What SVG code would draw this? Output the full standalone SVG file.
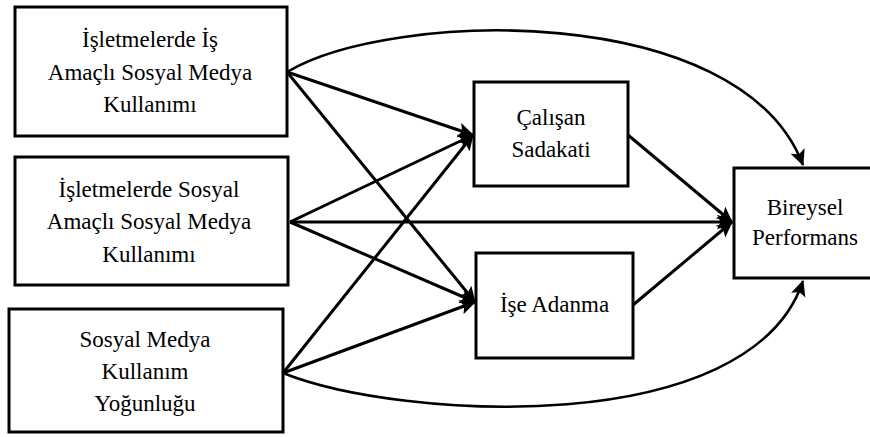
<svg xmlns="http://www.w3.org/2000/svg" width="870" height="437" viewBox="0 0 870 437">
  <style>
    .box { fill: #ffffff; stroke: #000000; stroke-width: 3; }
    .label { font-size: 23px; fill: #000000; text-anchor: middle; }
    .edge { fill: none; stroke: #000000; stroke-width: 3; marker-end: url(#head); }
    .curve { fill: none; stroke: #000000; stroke-width: 2.6; marker-end: url(#head); }
  </style>
  <defs>
    <marker id="head" markerUnits="userSpaceOnUse" markerWidth="18" markerHeight="16" refX="15" refY="7.5" orient="auto">
      <path d="M0,0 L16,7.5 L0,15 L3.5,7.5 z" fill="#000000"/>
    </marker>
  </defs>
  <rect width="870" height="437" fill="#ffffff"/>

  <!-- connectors -->
  <g id="connectors">
    <path class="curve" d="M287,72 C390,10 740,0 803,165"/>
    <path class="curve" d="M283,373 C400,420 750,440 803,281"/>
    <line class="edge" x1="287" y1="72" x2="473" y2="135"/>
    <line class="edge" x1="287" y1="72" x2="475" y2="302"/>
    <line class="edge" x1="290" y1="222" x2="473" y2="135"/>
    <line class="edge" x1="290" y1="222" x2="732" y2="222"/>
    <line class="edge" x1="290" y1="222" x2="475" y2="302"/>
    <line class="edge" x1="283" y1="373" x2="473" y2="135"/>
    <line class="edge" x1="283" y1="373" x2="475" y2="302"/>
    <line class="edge" x1="628" y1="135" x2="732" y2="222"/>
    <line class="edge" x1="633" y1="305" x2="732" y2="222"/>
  </g>

  <!-- nodes -->
  <g font-family="'Liberation Serif', 'DejaVu Serif', serif">
    <g id="is-amacli">
      <rect class="box" x="15" y="7" width="272" height="129"/>
      <text class="label" x="150" y="47">İşletmelerde İş</text>
      <text class="label" x="150" y="79.5">Amaçlı Sosyal Medya</text>
      <text class="label" x="150" y="112">Kullanımı</text>
    </g>
    <g id="sosyal-amacli">
      <rect class="box" x="15" y="157" width="273" height="128"/>
      <text class="label" x="149" y="196.5">İşletmelerde Sosyal</text>
      <text class="label" x="149" y="229">Amaçlı Sosyal Medya</text>
      <text class="label" x="149" y="261.5">Kullanımı</text>
    </g>
    <g id="yogunluk">
      <rect class="box" x="9" y="309" width="274" height="123"/>
      <text class="label" x="145" y="347">Sosyal Medya</text>
      <text class="label" x="145" y="379">Kullanım</text>
      <text class="label" x="145" y="411">Yoğunluğu</text>
    </g>
    <g id="sadakat">
      <rect class="box" x="474" y="82" width="154" height="104"/>
      <text class="label" x="551" y="125">Çalışan</text>
      <text class="label" x="551" y="157">Sadakati</text>
    </g>
    <g id="adanma">
      <rect class="box" x="476" y="253" width="157" height="105"/>
      <text class="label" x="554.5" y="312">İşe Adanma</text>
    </g>
    <g id="performans">
      <rect class="box" x="734" y="168" width="140" height="110"/>
      <text class="label" x="805" y="215">Bireysel</text>
      <text class="label" x="805" y="245">Performans</text>
    </g>
  </g>
</svg>
